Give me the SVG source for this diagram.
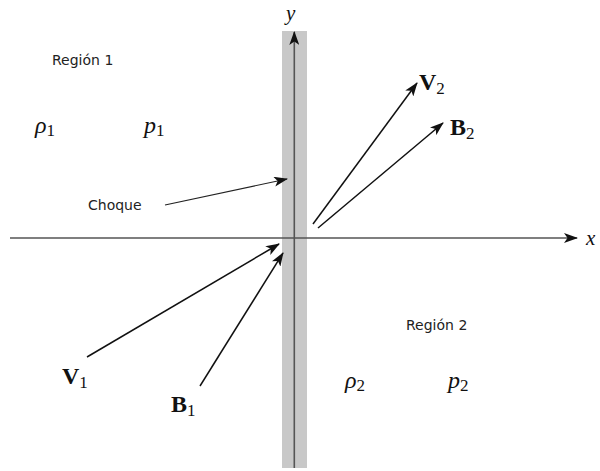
<svg xmlns="http://www.w3.org/2000/svg" width="600" height="471" viewBox="0 0 600 471">
<defs>
<style>
.lbl{font-family:"DejaVu Sans","Noto Sans",sans-serif;font-size:14px;fill:#222}
.m{font-family:"Liberation Serif","DejaVu Serif",serif;font-size:24px;fill:#111}
.mi{font-style:italic}
.b{font-weight:bold}
.axl{font-size:21px}
.sub{font-size:17px;font-style:normal;font-weight:normal}
.ax{stroke:#555;stroke-width:1.6;fill:none}
.vec{stroke:#111;stroke-width:1.5;fill:none}
.thin{stroke:#222;stroke-width:1.1;fill:none}
</style>
<marker id="ah" viewBox="0 0 14 10" refX="13" refY="5" markerWidth="14" markerHeight="10" markerUnits="userSpaceOnUse" orient="auto">
<path d="M0,0 L14,5 L0,10 L3.5,5 Z" fill="#111"/>
</marker>
</defs>
<rect width="600" height="471" fill="#fff"/>
<g id="shock">
<rect x="282" y="31" width="25" height="437" fill="#c8c8c8"/>
</g>
<g id="connectors">
<line class="ax" x1="10" y1="238" x2="577" y2="238" marker-end="url(#ah)"/>
<line class="ax" x1="294.3" y1="468" x2="294.3" y2="32" marker-end="url(#ah)"/>
<line class="thin" x1="165" y1="205" x2="287" y2="179" marker-end="url(#ah)"/>
<line class="vec" x1="87" y1="357" x2="279" y2="244" marker-end="url(#ah)"/>
<line class="vec" x1="200" y1="386" x2="283" y2="253" marker-end="url(#ah)"/>
<line class="vec" x1="313" y1="224" x2="417" y2="83" marker-end="url(#ah)"/>
<line class="vec" x1="318" y1="228" x2="443" y2="123" marker-end="url(#ah)"/>
</g>
<g id="x-label"><text class="m mi axl" x="586" y="245">x</text></g>
<g id="y-label"><text class="m mi axl" x="286" y="20">y</text></g>
<g id="region1"><text class="lbl" x="52" y="65">Región 1</text></g>
<g id="rho1"><text class="m mi" x="35" y="133">ρ<tspan class="sub" dy="3">1</tspan></text></g>
<g id="p1"><text class="m mi" x="144" y="133">p<tspan class="sub" dy="3">1</tspan></text></g>
<g id="choque"><text class="lbl" x="88" y="210">Choque</text></g>
<g id="V2"><text class="m b" x="419" y="90">V<tspan class="sub" dy="4">2</tspan></text></g>
<g id="B2"><text class="m b" x="450" y="135">B<tspan class="sub" dy="4">2</tspan></text></g>
<g id="V1"><text class="m b" x="62" y="384">V<tspan class="sub" dy="4">1</tspan></text></g>
<g id="B1"><text class="m b" x="171" y="412">B<tspan class="sub" dy="4">1</tspan></text></g>
<g id="region2"><text class="lbl" x="406" y="330">Región 2</text></g>
<g id="rho2"><text class="m mi" x="345" y="388">ρ<tspan class="sub" dy="3">2</tspan></text></g>
<g id="p2"><text class="m mi" x="448" y="388">p<tspan class="sub" dy="3">2</tspan></text></g>
</svg>
